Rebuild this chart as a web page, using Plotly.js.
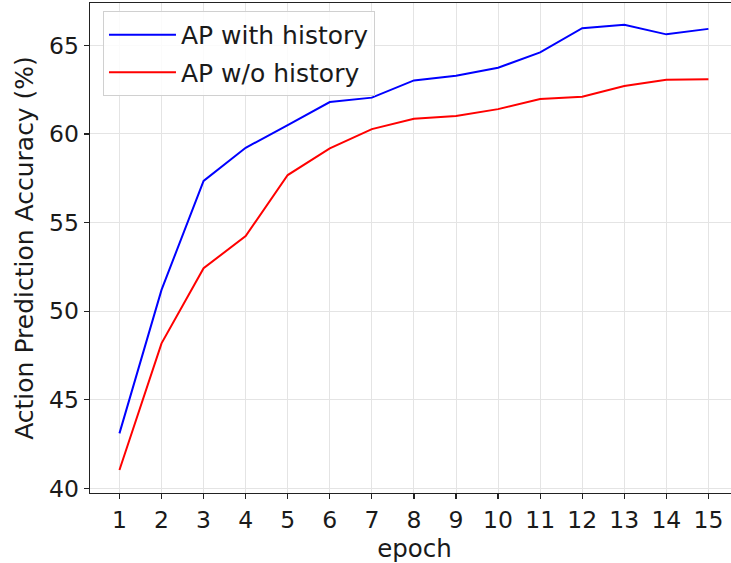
<!DOCTYPE html>
<html>
<head>
<meta charset="utf-8">
<script src="https://cdn.plot.ly/plotly-3.0.1.min.js"></script>
<style>
html,body{margin:0;padding:0;overflow:hidden;background:#fff;width:731px;height:563px;}
#chart{width:740px;height:563px;}
</style>
</head>
<body>
<div id="chart"></div>
<script>
const epochs = [1,2,3,4,5,6,7,8,9,10,11,12,13,14,15];
const withHistory = [43.1,51.2,57.35,59.22,60.5,61.8,62.05,63.02,63.28,63.74,64.6,65.97,66.16,65.62,65.93];
const withoutHistory = [41.03,48.18,52.42,54.24,57.68,59.19,60.27,60.86,61.01,61.4,61.97,62.1,62.7,63.06,63.08];
const seriesNames = ["AP with history","AP w/o history"];
const xTickLabels = epochs.map(String);
const yTickVals = [40,45,50,55,60,65];

const FAM = "DejaVu Sans, sans-serif";
const TXT = "#1a1a1a";
const traces = [
  {x:epochs, y:withHistory, name:seriesNames[0], type:"scatter", mode:"lines",
   line:{color:"#0000ff", width:2}, legendgroup:"a"},
  {x:epochs, y:withoutHistory, name:seriesNames[1], type:"scatter", mode:"lines",
   line:{color:"#ff0000", width:2}, legendgroup:"b"}
];
const layout = {
  width:740, height:563,
  margin:{l:90, r:1, t:3, b:70},
  paper_bgcolor:"#fff", plot_bgcolor:"#fff",
  font:{family:FAM, size:24, color:TXT},
  showlegend:true,
  legend:{x:0.02, y:0.9837, xanchor:"left", yanchor:"top",
    bgcolor:"rgba(255,255,255,0.85)", bordercolor:"#d0d0d0", borderwidth:1,
    font:{family:FAM, size:25, color:TXT},
    tracegroupgap:2, itemwidth:67},
  xaxis:{range:[0.3,15.727], tickmode:"array", tickvals:epochs, ticktext:xTickLabels,
    ticks:"outside", ticklen:5, tickwidth:1.2, tickcolor:"#222",
    showline:true, linecolor:"#222", linewidth:1.3, mirror:true,
    showgrid:true, gridcolor:"#e4e4e4", gridwidth:1, zeroline:false,
    tickfont:{family:FAM, size:23.5, color:TXT},
    title:{text:"epoch", font:{family:FAM, size:24.5, color:TXT}, standoff:3},
    automargin:false},
  yaxis:{range:[39.735,67.39], tickmode:"array", tickvals:yTickVals,
    ticks:"outside", ticklen:5, tickwidth:1.2, tickcolor:"#222",
    showline:true, linecolor:"#222", linewidth:1.3, mirror:true,
    showgrid:true, gridcolor:"#e4e4e4", gridwidth:1, zeroline:false,
    tickfont:{family:FAM, size:23.5, color:TXT},
    title:{text:"Action Prediction Accuracy (%)", font:{family:FAM, size:25, color:TXT}, standoff:8},
    automargin:false}
};
Plotly.newPlot("chart", traces, layout, {displayModeBar:false, staticPlot:true});
</script>
</body>
</html>
